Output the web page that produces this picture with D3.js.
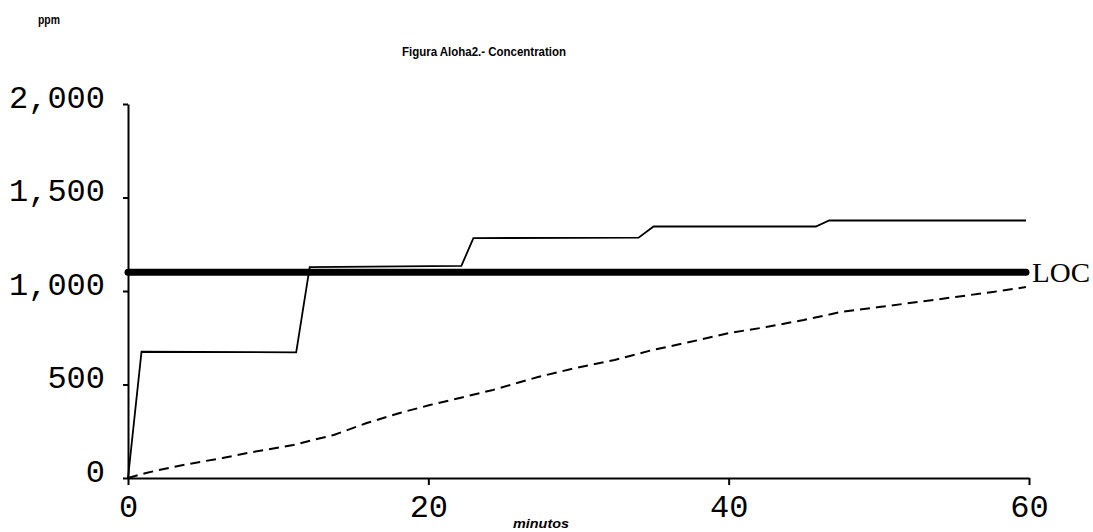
<!DOCTYPE html>
<html>
<head>
    <meta charset="utf-8">
    <title>Figura Aloha2</title>
    <script src="https://cdn.jsdelivr.net/npm/d3@7/dist/d3.min.js"></script>
    <style>
        html, body {
            margin: 0;
            padding: 0;
            background: #fff;
        }
        svg.main {
            display: block;
            width: 1093px;
            height: 532px;
        }
    </style>
</head>
<body>
    <svg class="main"></svg>
</body>
<script>
    // datos (minutos, ppm)
    var solidMin = [0, 0.9, 11.2, 12.1, 22.2, 23.0, 34.0, 35.0, 45.8, 46.7, 59.8];
    var solidPpm = [0, 675, 672, 1128, 1134, 1283, 1285, 1345, 1345, 1377, 1377];

    var dashMin = [0, 1.2, 3, 4.8, 6.3, 8.3, 11, 12.3, 13.7, 15.9, 18.1, 20.1, 22.1, 24.3,
        27.3, 29.8, 32.4, 34.9, 37.4, 40, 42.5, 45, 47.5, 50, 52.6, 55.1, 57.6, 59.8];
    var dashPpm = [0, 27, 59, 86, 107, 139, 176, 203, 230, 294, 348, 390, 428, 471,
        540, 588, 631, 684, 727, 775, 807, 845, 888, 914, 941, 968, 995, 1021];

    var locPpm = 1100;
    var locRange = [0, 59.8];

    var xTicks = [0, 20, 40, 60];
    var yTicks = [0, 500, 1000, 1500, 2000];

    var svg = d3.select("svg");

    var x = d3.scaleLinear().domain([0, 60]).range([128, 1029]);
    var y = d3.scaleLinear().domain([0, 2000]).range([478, 104]);

    var monoFont = "'Liberation Mono', 'DejaVu Sans Mono', monospace";

    // eje y
    var yAxis = svg.append("g")
        .attr("transform", "translate(128,0)")
        .call(d3.axisLeft(y).tickValues(yTicks).tickSize(5).tickSizeOuter(0)
            .tickFormat(d3.format(",")));
    yAxis.select(".domain").attr("stroke", "#000").attr("stroke-width", 2);
    yAxis.selectAll(".tick line").attr("stroke", "#000").attr("stroke-width", 2);
    yAxis.selectAll(".tick text")
        .attr("x", -23)
        .attr("dy", "0.1em")
        .attr("fill", "#000")
        .style("font-family", monoFont)
        .style("font-size", "32px");

    // eje x
    var xAxis = svg.append("g")
        .attr("transform", "translate(0,478)")
        .call(d3.axisBottom(x).tickValues(xTicks).tickSize(7).tickSizeOuter(0));
    xAxis.select(".domain").attr("stroke", "#000").attr("stroke-width", 2);
    xAxis.selectAll(".tick line").attr("stroke", "#000").attr("stroke-width", 2);
    xAxis.selectAll(".tick text")
        .attr("y", 16)
        .attr("dy", "0.71em")
        .attr("fill", "#000")
        .style("font-family", monoFont)
        .style("font-size", "32px");

    // linea LOC
    svg.append("line")
        .attr("x1", x(locRange[0])).attr("x2", x(locRange[1]))
        .attr("y1", y(locPpm)).attr("y2", y(locPpm))
        .attr("stroke", "#000")
        .attr("stroke-width", 7)
        .attr("stroke-linecap", "round");

    svg.append("text")
        .attr("x", x(locRange[1]) + 6)
        .attr("y", y(locPpm) + 10)
        .attr("textLength", 58)
        .attr("lengthAdjust", "spacingAndGlyphs")
        .style("font-family", "'Liberation Serif', 'DejaVu Serif', serif")
        .style("font-size", "27px")
        .text("LOC");

    var line = d3.line()
        .x(function (d) { return x(d[0]); })
        .y(function (d) { return y(d[1]); });

    var solidData = d3.zip(solidMin, solidPpm);
    var dashData = d3.zip(dashMin, dashPpm);

    svg.append("path")
        .datum(solidData)
        .attr("fill", "none")
        .attr("stroke", "#000")
        .attr("stroke-width", 1.8)
        .attr("d", line);

    svg.append("path")
        .datum(dashData)
        .attr("fill", "none")
        .attr("stroke", "#000")
        .attr("stroke-width", 2)
        .attr("stroke-dasharray", "10,6")
        .attr("d", line);

    // textos
    var narrow = "'Liberation Sans Narrow', 'Liberation Sans', Arial, sans-serif";

    svg.append("text")
        .attr("x", 402).attr("y", 56)
        .attr("textLength", 164)
        .attr("lengthAdjust", "spacingAndGlyphs")
        .style("font-family", narrow)
        .style("font-size", "13px")
        .style("font-weight", "bold")
        .text("Figura Aloha2.- Concentration");

    svg.append("text")
        .attr("x", 38).attr("y", 24)
        .attr("textLength", 22)
        .attr("lengthAdjust", "spacingAndGlyphs")
        .style("font-family", narrow)
        .style("font-size", "12px")
        .style("font-weight", "bold")
        .text("ppm");

    svg.append("text")
        .attr("x", 513).attr("y", 528)
        .attr("textLength", 56)
        .attr("lengthAdjust", "spacingAndGlyphs")
        .style("font-family", narrow)
        .style("font-size", "13px")
        .style("font-style", "italic")
        .style("font-weight", "bold")
        .text("minutos");
</script>
</html>
